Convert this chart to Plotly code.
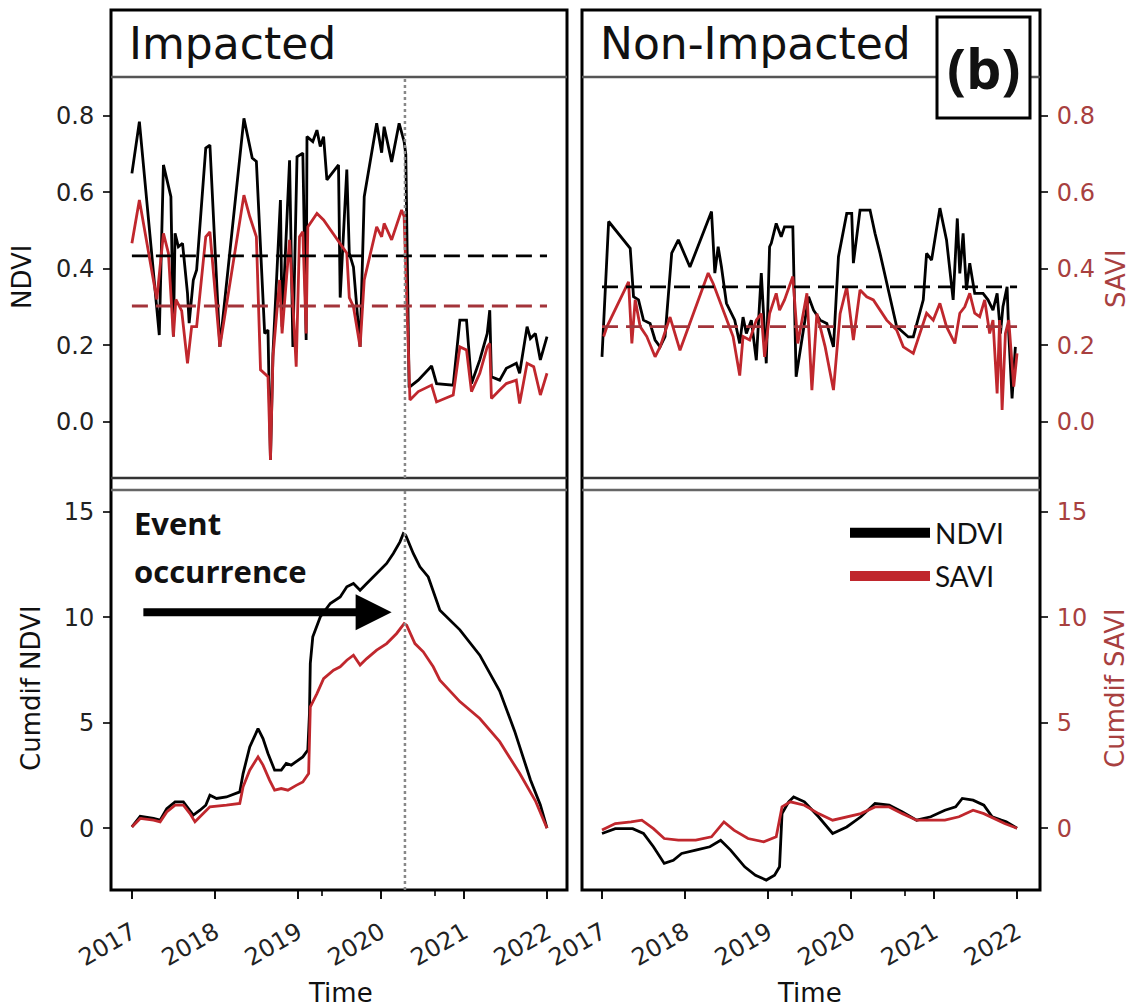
import pandas as pd
import plotly.graph_objects as go

W, H = 1133, 1007

# ---------------- data (decimal years) ----------------
imp_ndvi_t = [2017.00, 2017.09, 2017.33, 2017.38, 2017.47, 2017.50, 2017.52, 2017.56, 2017.61, 2017.67,
              2017.69, 2017.74, 2017.78, 2017.89, 2017.94, 2018.06, 2018.35, 2018.42, 2018.45, 2018.50,
              2018.60, 2018.64, 2018.67, 2018.70, 2018.79, 2018.81, 2018.90, 2018.94, 2018.99, 2019.06,
              2019.10, 2019.11, 2019.18, 2019.23, 2019.27, 2019.31, 2019.35, 2019.49, 2019.51, 2019.59,
              2019.62, 2019.67, 2019.75, 2019.80, 2019.95, 2020.01, 2020.04, 2020.13, 2020.22, 2020.28,
              2020.30, 2020.34, 2020.45, 2020.61, 2020.67, 2020.87, 2020.95, 2021.03, 2021.09, 2021.19,
              2021.28, 2021.31, 2021.33, 2021.43, 2021.51, 2021.63, 2021.67, 2021.76, 2021.80, 2021.86,
              2021.92, 2022.00]
imp_ndvi = [0.65, 0.785, 0.227, 0.672, 0.589, 0.223, 0.493, 0.458, 0.467, 0.336,
            0.258, 0.371, 0.397, 0.716, 0.724, 0.196, 0.794, 0.72, 0.69, 0.681,
            0.231, 0.24, -0.10, 0.179, 0.58, 0.249, 0.684, 0.196, 0.693, 0.703,
            0.214, 0.746, 0.733, 0.763, 0.72, 0.746, 0.633, 0.672, 0.325, 0.66,
            0.441, 0.405, 0.196, 0.589, 0.781, 0.704, 0.772, 0.68, 0.781, 0.733,
            0.70, 0.09, 0.109, 0.146, 0.10, 0.096, 0.266, 0.266, 0.10, 0.162,
            0.231, 0.292, 0.118, 0.109, 0.14, 0.153, 0.127, 0.249, 0.218, 0.231,
            0.162, 0.223]

imp_savi_t = [2017.00, 2017.09, 2017.30, 2017.38, 2017.44, 2017.50, 2017.53, 2017.60, 2017.67, 2017.72,
              2017.78, 2017.89, 2017.94, 2018.06, 2018.35, 2018.42, 2018.50, 2018.55, 2018.64, 2018.67,
              2018.70, 2018.78, 2018.81, 2018.90, 2018.98, 2019.02, 2019.06, 2019.10, 2019.12, 2019.23,
              2019.31, 2019.59, 2019.62, 2019.67, 2019.75, 2019.80, 2019.95, 2020.01, 2020.04, 2020.13,
              2020.25, 2020.28, 2020.35, 2020.45, 2020.61, 2020.67, 2020.87, 2020.95, 2021.03, 2021.09,
              2021.19, 2021.28, 2021.31, 2021.33, 2021.43, 2021.51, 2021.63, 2021.67, 2021.76, 2021.84,
              2021.92, 2022.00]
imp_savi = [0.467, 0.58, 0.32, 0.493, 0.441, 0.223, 0.32, 0.29, 0.153, 0.249,
            0.249, 0.484, 0.497, 0.196, 0.593, 0.537, 0.484, 0.136, 0.118, -0.10,
            0.17, 0.371, 0.231, 0.476, 0.144, 0.484, 0.497, 0.231, 0.51, 0.545,
            0.528, 0.441, 0.325, 0.301, 0.196, 0.371, 0.51, 0.484, 0.519, 0.476,
            0.554, 0.537, 0.057, 0.079, 0.096, 0.052, 0.07, 0.196, 0.188, 0.079,
            0.127, 0.196, 0.205, 0.061, 0.083, 0.10, 0.109, 0.048, 0.153, 0.144,
            0.07, 0.127]

non_ndvi_t = [2017.00, 2017.08, 2017.34, 2017.38, 2017.44, 2017.50, 2017.58, 2017.64, 2017.70, 2017.76,
              2017.84, 2017.92, 2018.06, 2018.32, 2018.36, 2018.40, 2018.44, 2018.50, 2018.60, 2018.66,
              2018.70, 2018.74, 2018.80, 2018.86, 2018.92, 2018.98, 2019.02, 2019.04, 2019.10, 2019.16,
              2019.20, 2019.30, 2019.34, 2019.49, 2019.55, 2019.63, 2019.71, 2019.79, 2019.85, 2019.95,
              2020.01, 2020.03, 2020.11, 2020.23, 2020.29, 2020.35, 2020.55, 2020.69, 2020.75, 2020.87,
              2020.91, 2020.97, 2021.07, 2021.15, 2021.23, 2021.28, 2021.31, 2021.35, 2021.39, 2021.43,
              2021.49, 2021.59, 2021.65, 2021.71, 2021.76, 2021.80, 2021.83, 2021.88, 2021.90, 2021.94,
              2021.98]
non_ndvi = [0.17, 0.524, 0.454, 0.327, 0.319, 0.266, 0.257, 0.214, 0.196, 0.223,
            0.441, 0.476, 0.405, 0.55, 0.389, 0.458, 0.405, 0.31, 0.266, 0.205,
            0.274, 0.231, 0.266, 0.161, 0.389, 0.153, 0.458, 0.467, 0.519, 0.484,
            0.51, 0.51, 0.118, 0.327, 0.292, 0.266, 0.257, 0.196, 0.432, 0.545,
            0.545, 0.415, 0.554, 0.554, 0.493, 0.441, 0.249, 0.222, 0.222, 0.319,
            0.441, 0.423, 0.559, 0.476, 0.319, 0.532, 0.388, 0.493, 0.345, 0.415,
            0.336, 0.336, 0.319, 0.292, 0.336, 0.231, 0.301, 0.353, 0.231, 0.061,
            0.196]

non_savi_t = [2017.02, 2017.06, 2017.32, 2017.36, 2017.40, 2017.46, 2017.54, 2017.64, 2017.70, 2017.82,
              2017.94, 2018.28, 2018.34, 2018.46, 2018.58, 2018.66, 2018.70, 2018.78, 2018.86, 2018.92,
              2018.96, 2019.02, 2019.10, 2019.14, 2019.20, 2019.30, 2019.36, 2019.47, 2019.53, 2019.59,
              2019.69, 2019.79, 2019.87, 2019.95, 2020.03, 2020.11, 2020.19, 2020.27, 2020.43, 2020.55,
              2020.63, 2020.75, 2020.83, 2020.91, 2020.99, 2021.07, 2021.15, 2021.25, 2021.31, 2021.37,
              2021.43, 2021.49, 2021.55, 2021.61, 2021.67, 2021.71, 2021.76, 2021.79, 2021.82, 2021.86,
              2021.90, 2021.96, 2022.00]
non_savi = [0.223, 0.249, 0.366, 0.205, 0.319, 0.249, 0.223, 0.17, 0.196, 0.274,
            0.187, 0.389, 0.362, 0.292, 0.223, 0.121, 0.223, 0.214, 0.266, 0.283,
            0.17, 0.283, 0.336, 0.292, 0.319, 0.38, 0.205, 0.336, 0.083, 0.283,
            0.196, 0.083, 0.283, 0.353, 0.214, 0.345, 0.327, 0.319, 0.266, 0.24,
            0.196, 0.179, 0.231, 0.284, 0.266, 0.31, 0.249, 0.205, 0.284, 0.301,
            0.336, 0.284, 0.275, 0.319, 0.231, 0.266, 0.074, 0.266, 0.031, 0.231,
            0.266, 0.092, 0.179]

imp_cum_ndvi_t = [2017.00, 2017.10, 2017.26, 2017.34, 2017.42, 2017.52, 2017.62, 2017.68, 2017.74, 2017.82,
                  2017.89, 2017.94, 2018.02, 2018.14, 2018.30, 2018.34, 2018.42, 2018.52, 2018.58, 2018.64,
                  2018.72, 2018.80, 2018.86, 2018.92, 2018.98, 2019.06, 2019.12, 2019.14, 2019.15, 2019.18,
                  2019.27, 2019.39, 2019.51, 2019.59, 2019.67, 2019.75, 2019.83, 2019.95, 2020.07, 2020.15,
                  2020.23, 2020.27, 2020.30, 2020.39, 2020.47, 2020.57, 2020.71, 2020.95, 2021.19, 2021.43,
                  2021.61, 2021.80, 2021.92, 2022.00]
imp_cum_ndvi = [0.06, 0.57, 0.46, 0.38, 0.93, 1.25, 1.25, 0.93, 0.62, 0.85,
                1.09, 1.56, 1.41, 1.48, 1.72, 2.59, 3.85, 4.72, 4.25, 3.54,
                2.75, 2.75, 3.07, 2.99, 3.15, 3.38, 3.70, 5.44, 7.81, 9.07,
                10.01, 10.65, 10.96, 11.44, 11.60, 11.28, 11.60, 12.07, 12.55, 13.02,
                13.57, 13.96, 13.88, 13.02, 12.39, 11.91, 10.33, 9.4, 8.2, 6.5,
                4.6, 2.3, 1.1, 0.0]

imp_cum_savi_t = [2017.00, 2017.10, 2017.26, 2017.34, 2017.42, 2017.52, 2017.62, 2017.70, 2017.76, 2017.82,
                  2017.94, 2018.14, 2018.30, 2018.34, 2018.42, 2018.52, 2018.58, 2018.66, 2018.72, 2018.80,
                  2018.88, 2018.98, 2019.06, 2019.13, 2019.15, 2019.23, 2019.31, 2019.43, 2019.51, 2019.59,
                  2019.67, 2019.75, 2019.83, 2019.95, 2020.07, 2020.19, 2020.28, 2020.31, 2020.41, 2020.51,
                  2020.63, 2020.71, 2020.95, 2021.19, 2021.43, 2021.67, 2021.86, 2022.00]
imp_cum_savi = [0.06, 0.46, 0.38, 0.30, 0.77, 1.09, 1.09, 0.69, 0.30, 0.54,
                1.01, 1.09, 1.17, 1.96, 2.75, 3.38, 2.99, 2.27, 1.80, 1.88,
                1.80, 2.03, 2.19, 2.59, 5.75, 6.38, 7.09, 7.49, 7.65, 7.96,
                8.20, 7.73, 8.04, 8.44, 8.75, 9.23, 9.70, 9.62, 8.75, 8.36,
                7.65, 7.02, 6.0, 5.2, 4.1, 2.6, 1.3, 0.0]

non_cum_ndvi_t = [2017.00, 2017.16, 2017.37, 2017.50, 2017.62, 2017.75, 2017.86, 2017.96, 2018.13, 2018.30,
                  2018.43, 2018.55, 2018.72, 2018.85, 2018.98, 2019.08, 2019.14, 2019.17, 2019.25, 2019.31,
                  2019.44, 2019.61, 2019.78, 2019.95, 2020.12, 2020.29, 2020.46, 2020.62, 2020.79, 2020.96,
                  2021.13, 2021.26, 2021.34, 2021.47, 2021.60, 2021.70, 2021.81, 2021.87, 2022.00]
non_cum_ndvi = [-0.25, -0.02, -0.02, -0.25, -0.88, -1.67, -1.52, -1.20, -1.04, -0.88,
                -0.57, -1.04, -1.83, -2.23, -2.46, -2.23, -1.83, 0.69, 1.25, 1.48,
                1.25, 0.54, -0.25, 0.06, 0.54, 1.17, 1.09, 0.77, 0.38, 0.54,
                0.85, 1.01, 1.41, 1.33, 1.09, 0.54, 0.38, 0.30, 0.0]

non_cum_savi_t = [2017.00, 2017.16, 2017.35, 2017.48, 2017.62, 2017.75, 2017.92, 2018.13, 2018.32, 2018.47,
                  2018.59, 2018.76, 2018.95, 2019.10, 2019.17, 2019.27, 2019.44, 2019.61, 2019.78, 2019.95,
                  2020.12, 2020.29, 2020.46, 2020.62, 2020.79, 2020.96, 2021.13, 2021.30, 2021.47, 2021.60,
                  2021.72, 2021.85, 2022.00]
non_cum_savi = [-0.09, 0.22, 0.30, 0.38, -0.02, -0.49, -0.57, -0.57, -0.41, 0.30,
                -0.09, -0.49, -0.65, -0.41, 1.01, 1.25, 1.09, 0.69, 0.38, 0.54,
                0.69, 1.01, 1.01, 0.69, 0.38, 0.38, 0.38, 0.54, 0.85, 0.69,
                0.46, 0.22, 0.0]

# long-term means (dashed lines) and period spanned
imp_mean_ndvi, imp_mean_savi = 0.434, 0.303
non_mean_ndvi, non_mean_savi = 0.353, 0.249
mean_span = [2017.00, 2022.00]
event_date = 2020.29
year_ticks = [2017, 2018, 2019, 2020, 2021, 2022]
minor_ticks = [2019.29, 2020.65]
ndvi_ticks = [0.0, 0.2, 0.4, 0.6, 0.8]
cum_ticks = [0, 5, 10, 15]

# ---------------- helpers ----------------
def to_date(y):
    yr = int(y)
    a = pd.Timestamp(yr, 1, 1)
    b = pd.Timestamp(yr + 1, 1, 1)
    return a + (b - a) * (y - yr)

def dates(lst):
    return [to_date(v) for v in lst]

def P(xpx):
    return xpx / W

def Q(ypx):
    return 1 - ypx / H

BLACK = "#000000"
RED = "#c0272d"
RED_DASH = "#a3343a"
RED_TXT = "#a8403f"
FONT = "DejaVu Sans"
LW = 2.8

fig = go.Figure()

def line(x, y, xa, ya, color, width=LW, dash=None):
    fig.add_trace(go.Scatter(x=dates(x), y=y, xaxis=xa, yaxis=ya, mode="lines",
                             line=dict(color=color, width=width, dash=dash),
                             showlegend=False, hoverinfo="skip"))

# top-left: impacted
line(imp_ndvi_t, imp_ndvi, "x", "y", BLACK)
line(imp_savi_t, imp_savi, "x", "y", RED)
line(mean_span, [imp_mean_ndvi] * 2, "x", "y", BLACK, 2.8, "16px,8px")
line(mean_span, [imp_mean_savi] * 2, "x", "y", RED_DASH, 2.8, "16px,8px")
# top-right: non-impacted
line(non_ndvi_t, non_ndvi, "x2", "y2", BLACK)
line(non_savi_t, non_savi, "x2", "y2", RED)
line(mean_span, [non_mean_ndvi] * 2, "x2", "y2", BLACK, 2.8, "16px,8px")
line(mean_span, [non_mean_savi] * 2, "x2", "y2", RED_DASH, 2.8, "16px,8px")
# bottom-left: cumdif impacted
line(imp_cum_ndvi_t, imp_cum_ndvi, "x3", "y3", BLACK)
line(imp_cum_savi_t, imp_cum_savi, "x3", "y3", RED)
# bottom-right: cumdif non-impacted
line(non_cum_ndvi_t, non_cum_ndvi, "x4", "y4", BLACK)
line(non_cum_savi_t, non_cum_savi, "x4", "y4", RED)

# legend entries
fig.add_trace(go.Scatter(x=[None], y=[None], xaxis="x4", yaxis="y4", mode="lines", name="NDVI",
                         legendgroup="a", line=dict(color=BLACK, width=15)))
fig.add_trace(go.Scatter(x=[None], y=[None], xaxis="x4", yaxis="y4", mode="lines", name="SAVI",
                         legendgroup="b", line=dict(color=RED, width=15)))

# ---------------- axes ----------------
L_DOM = [P(111), P(567)]
R_DOM = [P(582), P(1040)]
T_DOM = [Q(478), Q(77)]
B_DOM = [Q(890), Q(490)]
L_RANGE = ["2016-10-01", "2022-03-30"]
R_RANGE = ["2016-10-05", "2022-04-12"]

tickfont = dict(family=FONT, size=24, color="#222")
red_tickfont = dict(family=FONT, size=24, color=RED_TXT)

def xaxis(dom, rng, anchor, bottom):
    d = dict(domain=dom, range=rng, type="date", automargin=False,
             anchor=anchor, showgrid=False, zeroline=False, showline=False)
    if bottom:
        d.update(tickmode="array", tickvals=[to_date(float(v)) for v in year_ticks],
                 ticktext=[str(v) for v in year_ticks], tickangle=-30, ticks="outside",
                 ticklen=8, tickwidth=2, tickcolor="#111", tickfont=tickfont, ticklabelstandoff=10,
                 minor=dict(tickmode="array", tickvals=[to_date(v) for v in minor_ticks],
                            ticks="outside", ticklen=5, tickwidth=2, tickcolor="#333"))
    else:
        d.update(showticklabels=False, ticks="")
    return d

def yaxis(dom, rng, anchor, tv, tt, side, font):
    return dict(domain=dom, range=rng, anchor=anchor, side=side, showgrid=False, zeroline=False,
                showline=False, automargin=False, tickmode="array", tickvals=tv, ticktext=tt,
                ticks="outside", ticklen=7, tickwidth=2, tickcolor="#333", tickfont=font,
                ticklabelstandoff=4)

fig.update_layout(
    xaxis=xaxis(L_DOM, L_RANGE, "y", False),
    xaxis2=xaxis(R_DOM, R_RANGE, "y2", False),
    xaxis3=xaxis(L_DOM, L_RANGE, "y3", True),
    xaxis4=xaxis(R_DOM, R_RANGE, "y4", True),
    yaxis=yaxis(T_DOM, [-0.147, 0.902], "x", ndvi_ticks, [f"{v:.1f}" for v in ndvi_ticks], "left", tickfont),
    yaxis2=yaxis(T_DOM, [-0.147, 0.902], "x2", ndvi_ticks, [f"{v:.1f}" for v in ndvi_ticks], "right", red_tickfont),
    yaxis3=yaxis(B_DOM, [-2.93, 16.03], "x3", cum_ticks, [str(v) for v in cum_ticks], "left", tickfont),
    yaxis4=yaxis(B_DOM, [-2.93, 16.03], "x4", cum_ticks, [str(v) for v in cum_ticks], "right", red_tickfont),
)

# ---------------- frames & decorations ----------------
shapes = []
for x0, x1 in [(111, 567), (582, 1040)]:
    shapes.append(dict(type="rect", xref="paper", yref="paper", x0=P(x0), x1=P(x1), y0=Q(890), y1=Q(10),
                       line=dict(color="#000", width=3), layer="above"))
    shapes.append(dict(type="line", xref="paper", yref="paper", x0=P(x0), x1=P(x1), y0=Q(77), y1=Q(77),
                       line=dict(color="#555", width=2.5), layer="above"))
    shapes.append(dict(type="line", xref="paper", yref="paper", x0=P(x0), x1=P(x1), y0=Q(478), y1=Q(478),
                       line=dict(color="#333", width=2.5), layer="above"))
    shapes.append(dict(type="line", xref="paper", yref="paper", x0=P(x0), x1=P(x1), y0=Q(490), y1=Q(490),
                       line=dict(color="#666", width=2.5), layer="above"))
# event line
for xa, ya in [("x", "y"), ("x3", "y3")]:
    shapes.append(dict(type="line", xref=xa, yref=ya + " domain", x0=to_date(event_date), x1=to_date(event_date),
                       y0=0, y1=1, line=dict(color="#888", width=2.5, dash="dot"), layer="above"))
# (b) box
shapes.append(dict(type="rect", xref="paper", yref="paper", x0=P(937), x1=P(1030), y0=Q(118), y1=Q(17),
                   line=dict(color="#000", width=3), fillcolor="white", layer="above"))

ann = []
def text(t, x, y, size, color="#111", angle=0, xanchor="center", family=FONT):
    ann.append(dict(text=t, x=P(x), y=Q(y), xref="paper", yref="paper", showarrow=False,
                    xanchor=xanchor, yanchor="middle", textangle=angle,
                    font=dict(family=family, size=size, color=color)))

text("Impacted", 127, 43, 44, xanchor="left")
text("Non-Impacted", 598, 43, 44, xanchor="left")
text("<b>(b)</b>", 983, 67, 56, family="Open Sans")
text("NDVI", 22, 277, 26, angle=-90)
text("Cumdif NDVI", 31, 688, 26, angle=-90)
text("SAVI", 1116, 279, 26, color=RED_TXT, angle=-90)
text("Cumdif SAVI", 1115, 688, 26, color=RED_TXT, angle=-90)
text("Time", 340, 993, 26)
text("Time", 809, 993, 26)
text("<b>Event</b>", 132, 523, 31, xanchor="left", family="Open Sans")
text("<b>occurrence</b>", 132, 571, 31, xanchor="left", family="Open Sans")

ann.append(dict(x=to_date(2020.13), y=10.24, xref="x3", yref="y3",
                ax=to_date(2017.12), ay=10.24, axref="x3", ayref="y3",
                text="", showarrow=True, arrowhead=2, arrowsize=0.9, arrowwidth=8, arrowcolor="#000"))

fig.update_layout(
    width=W, height=H, autosize=False,
    margin=dict(l=0, r=0, t=0, b=0, pad=0),
    paper_bgcolor="white", plot_bgcolor="white",
    shapes=shapes, annotations=ann,
    showlegend=True,
    legend=dict(x=P(845), y=Q(508), xanchor="left", yanchor="top", bgcolor="rgba(0,0,0,0)",
                font=dict(family="Lato", size=28, color="#111"), itemwidth=80, tracegroupgap=4),
)

fig.write_html("out.html", config={"displayModeBar": False},
               post_script="document.body.style.margin='0';")
